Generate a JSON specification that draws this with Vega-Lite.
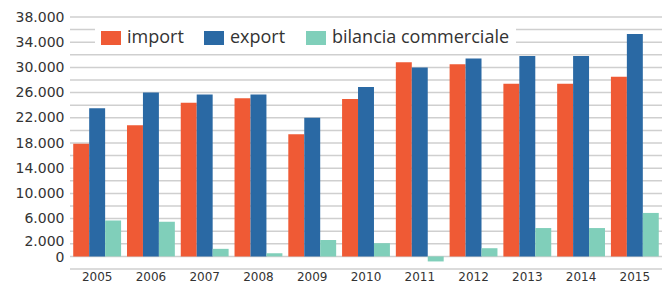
{
  "$schema": "https://vega.github.io/schema/vega-lite/v6.json",
  "autosize": "none",
  "width": 592,
  "height": 252,
  "padding": {"left": 70, "top": 17, "right": 0, "bottom": 15},
  "background": "white",
  "config": {
    "locale": {"number": {"decimal": ",", "thousands": ".", "grouping": [3], "currency": ["€", ""]}},
    "view": {"stroke": null},
    "font": "Open Sans",
    "axis": {"labelOverlap": false, "labelFlush": false}
  },
  "data": {
    "values": [
      {"year": "2005", "serie": "import", "value": 17900},
      {"year": "2005", "serie": "export", "value": 23500},
      {"year": "2005", "serie": "bilancia commerciale", "value": 5700},
      {"year": "2006", "serie": "import", "value": 20800},
      {"year": "2006", "serie": "export", "value": 26000},
      {"year": "2006", "serie": "bilancia commerciale", "value": 5500},
      {"year": "2007", "serie": "import", "value": 24400},
      {"year": "2007", "serie": "export", "value": 25700},
      {"year": "2007", "serie": "bilancia commerciale", "value": 1200},
      {"year": "2008", "serie": "import", "value": 25100},
      {"year": "2008", "serie": "export", "value": 25700},
      {"year": "2008", "serie": "bilancia commerciale", "value": 500},
      {"year": "2009", "serie": "import", "value": 19400},
      {"year": "2009", "serie": "export", "value": 22000},
      {"year": "2009", "serie": "bilancia commerciale", "value": 2600},
      {"year": "2010", "serie": "import", "value": 25000},
      {"year": "2010", "serie": "export", "value": 26900},
      {"year": "2010", "serie": "bilancia commerciale", "value": 2100},
      {"year": "2011", "serie": "import", "value": 30800},
      {"year": "2011", "serie": "export", "value": 30000},
      {"year": "2011", "serie": "bilancia commerciale", "value": -800},
      {"year": "2012", "serie": "import", "value": 30500},
      {"year": "2012", "serie": "export", "value": 31400},
      {"year": "2012", "serie": "bilancia commerciale", "value": 1300},
      {"year": "2013", "serie": "import", "value": 27400},
      {"year": "2013", "serie": "export", "value": 31800},
      {"year": "2013", "serie": "bilancia commerciale", "value": 4500},
      {"year": "2014", "serie": "import", "value": 27400},
      {"year": "2014", "serie": "export", "value": 31800},
      {"year": "2014", "serie": "bilancia commerciale", "value": 4500},
      {"year": "2015", "serie": "import", "value": 28500},
      {"year": "2015", "serie": "export", "value": 35300},
      {"year": "2015", "serie": "bilancia commerciale", "value": 6900}
    ]
  },
  "layer": [
    {
      "mark": {"type": "rule", "color": "#cfcfcf", "strokeWidth": 1.5},
      "data": {"values": [
        {"g": -2000}, {"g": 0}, {"g": 2000}, {"g": 4000}, {"g": 6000}, {"g": 8000}, {"g": 10000},
        {"g": 12000}, {"g": 14000}, {"g": 16000}, {"g": 18000}, {"g": 20000}, {"g": 22000},
        {"g": 24000}, {"g": 26000}, {"g": 28000}, {"g": 30000}, {"g": 32000}, {"g": 34000},
        {"g": 36000}, {"g": 38000}
      ]},
      "encoding": {
        "y": {
          "field": "g", "type": "quantitative",
          "scale": {"domain": [-2000, 38000], "nice": false},
          "axis": {
            "title": null, "grid": false, "domain": false, "ticks": false,
            "values": [0, 2000, 6000, 10000, 14000, 18000, 22000, 26000, 30000, 34000, 38000],
            "labelOverlap": false,
            "labelOffset": {"condition": [{"test": "datum.value == 2000", "value": -2}, {"test": "datum.value == 0", "value": 1.5}], "value": 0},
            "format": ",d", "labelFontSize": 14, "labelColor": "#333", "labelPadding": 6, "labelFont": "DejaVu Sans"
          }
        }
      }
    },
    {
      "mark": {"type": "bar"},
      "encoding": {
        "x": {
          "field": "year", "type": "nominal",
          "scale": {"paddingInner": 0.11, "paddingOuter": 0.06},
          "axis": {"title": null, "domain": false, "ticks": false, "labelAngle": 0, "labelFontSize": 12, "labelColor": "#333", "labelPadding": 2, "labelFont": "DejaVu Sans"}
        },
        "xOffset": {"field": "serie", "type": "nominal", "sort": ["import", "export", "bilancia commerciale"]},
        "y": {
          "field": "value", "type": "quantitative",
          "scale": {"domain": [-2000, 38000], "nice": false},
          "axis": {
            "title": null, "grid": false, "domain": false, "ticks": false,
            "values": [0, 2000, 6000, 10000, 14000, 18000, 22000, 26000, 30000, 34000, 38000],
            "labelOverlap": false,
            "labelOffset": {"condition": [{"test": "datum.value == 2000", "value": -2}, {"test": "datum.value == 0", "value": 1.5}], "value": 0},
            "format": ",d", "labelFontSize": 14, "labelColor": "#333", "labelPadding": 6, "labelFont": "DejaVu Sans"
          }
        },
        "color": {
          "field": "serie", "type": "nominal",
          "sort": ["import", "export", "bilancia commerciale"],
          "scale": {"domain": ["import", "export", "bilancia commerciale"], "range": ["#EF5A35", "#2A69A4", "#80CFBA"]},
          "legend": {
            "title": null, "orient": "none", "direction": "horizontal",
            "legendX": 25, "legendY": 5,
            "fillColor": "white", "padding": 6,
            "symbolType": "M-1,-0.7H1V0.7H-1Z", "symbolSize": 400, "symbolStrokeWidth": 0,
            "labelFontSize": 18, "labelColor": "#333", "labelFont": "Open Sans", "labelLimit": 400,
            "labelOffset": 6, "columnPadding": 20
          }
        }
      }
    }
  ]
}
